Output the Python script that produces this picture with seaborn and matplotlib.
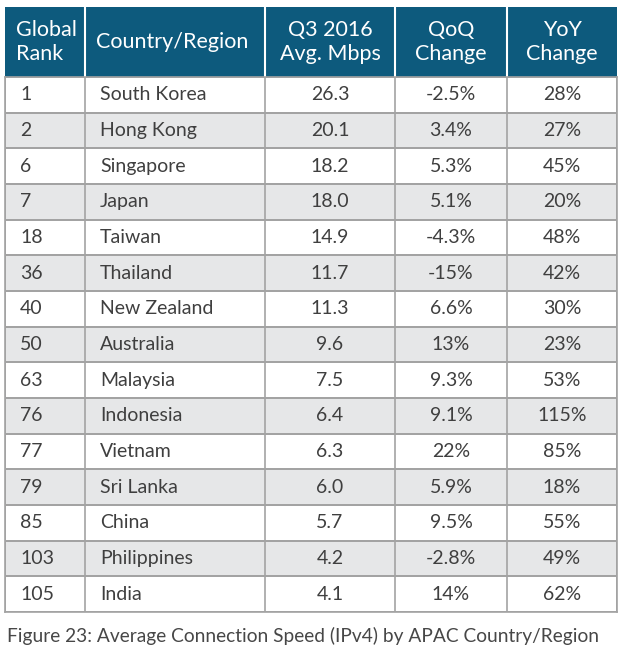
import numpy as np
import matplotlib
matplotlib.use("Agg")
import matplotlib.pyplot as plt
import seaborn as sns
from matplotlib.colors import ListedColormap

ranks = [1, 2, 6, 7, 18, 36, 40, 50, 63, 76, 77, 79, 85, 103, 105]
countries = ["South Korea", "Hong Kong", "Singapore", "Japan", "Taiwan", "Thailand",
             "New Zealand", "Australia", "Malaysia", "Indonesia", "Vietnam",
             "Sri Lanka", "China", "Philippines", "India"]
mbps = [26.3, 20.1, 18.2, 18.0, 14.9, 11.7, 11.3, 9.6, 7.5, 6.4, 6.3, 6.0, 5.7, 4.2, 4.1]
qoq = ["-2.5%", "3.4%", "5.3%", "5.1%", "-4.3%", "-15%", "6.6%", "13%", "9.3%",
       "9.1%", "22%", "5.9%", "9.5%", "-2.8%", "14%"]
yoy = ["28%", "27%", "45%", "20%", "48%", "42%", "30%", "23%", "53%", "115%",
       "85%", "18%", "55%", "49%", "62%"]
headers = ["Global\nRank", "Country/Region", "Q3 2016\nAvg. Mbps", "QoQ\nChange", "YoY\nChange"]
caption = "Figure 23: Average Connection Speed (IPv4) by APAC Country/Region"

W, H = 624, 651
left_px, right_px = 5, 617
head_top, head_bot, body_bot = 7, 77, 612
col_edges_px = [0, 80, 260, 390, 502, 612]
tw = right_px - left_px
edges = [e / tw for e in col_edges_px]
pad = 15 / tw

header_color = "#0d5a7d"
stripe_colors = ["#ffffff", "#e6e7e8"]
grid_color = "#a3a3a3"
text_color = "#3f3f3f"

sns.set_theme(style="white")
plt.rcParams['font.family'] = ['Lato', 'DejaVu Sans']

fig = plt.figure(figsize=(W / 100, H / 100), dpi=100)

# header
axh = fig.add_axes([left_px / W, 1 - head_bot / H, tw / W, (head_bot - head_top) / H])
sns.heatmap(np.zeros((1, 1)), cmap=ListedColormap([header_color]), cbar=False, ax=axh,
            xticklabels=False, yticklabels=False)
for e in edges[1:-1]:
    axh.axvline(e, color="white", lw=1.5)
for j, h in enumerate(headers):
    if j < 2:
        x, ha = edges[j] + pad - 4 / tw, "left"
    else:
        x, ha = (edges[j] + edges[j + 1]) / 2, "center"
    axh.text(x, 0.5, h, ha=ha, va="center", color="white", fontsize=15.5,
             linespacing=1.2)

# body
axb = fig.add_axes([left_px / W, 1 - body_bot / H, tw / W, (body_bot - head_bot) / H])
stripes = np.array([[i % 2] for i in range(len(ranks))])
sns.heatmap(stripes, cmap=ListedColormap(stripe_colors), cbar=False, ax=axb,
            linewidths=1.2, linecolor=grid_color, xticklabels=False, yticklabels=False)
for e in edges[1:-1]:
    axb.axvline(e, color=grid_color, lw=1.2)
for s in axb.spines.values():
    s.set_visible(True)
    s.set_color(grid_color)
    s.set_linewidth(1.2)

for i in range(len(ranks)):
    y = i + 0.5
    vals = [str(ranks[i]), countries[i], f"{mbps[i]:.1f}", qoq[i], yoy[i]]
    for j, v in enumerate(vals):
        if j < 2:
            x, ha = edges[j] + pad, "left"
        else:
            x, ha = (edges[j] + edges[j + 1]) / 2, "center"
        axb.text(x, y, v, ha=ha, va="center", color=text_color, fontsize=14)

fig.text(7 / W, 1 - 636 / H, caption, ha="left", va="center", color="#474747",
         fontsize=13.8)

fig.savefig("out.png", dpi=100)
